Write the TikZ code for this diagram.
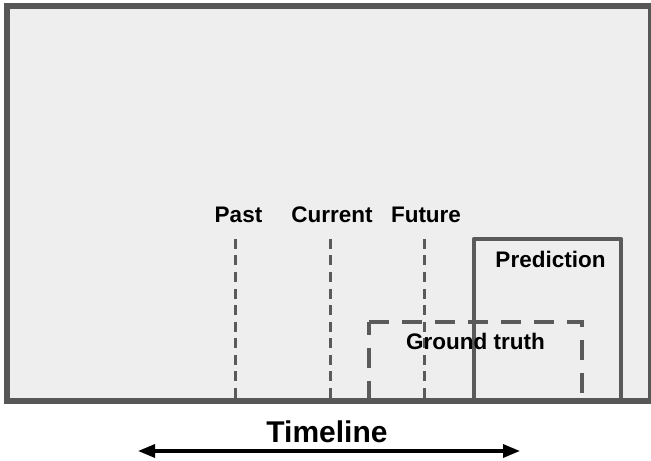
\documentclass[tikz,border=0pt]{standalone}
\usepackage{fontspec}
\setmainfont{Liberation Sans}
\usetikzlibrary{arrows.meta}
\definecolor{framegray}{HTML}{575757}
\definecolor{bggray}{HTML}{EEEEEE}
\definecolor{dashgray}{HTML}{5A5A5A}
\tikzset{
  label22/.style={font=\fontsize{22.5bp}{26bp}\selectfont\bfseries, inner sep=0pt, anchor=base, text=black},
  timelbl/.style={font=\fontsize{30bp}{34bp}\selectfont\bfseries, inner sep=0pt, anchor=base, text=black},
  marker/.style={draw=dashgray, line width=3bp, dash pattern=on 10bp off 6.5bp},
  gtbox/.style={draw=dashgray, line width=4.5bp, dash pattern=on 20bp off 13bp},
  predbox/.style={draw=dashgray, line width=4.5bp, line join=round},
  framebox/.style={draw=framegray, line width=6bp},
}
\begin{document}
\begin{tikzpicture}[x=1bp,y=-1bp]
\useasboundingbox (0,0) rectangle (651,461);
% background
\fill[bggray] (6.5,6.5) rectangle (650.5,401);
% coordinates
\coordinate (pastT) at (235,239);
\coordinate (pastB) at (235,401);
\coordinate (curT) at (330,239);
\coordinate (curB) at (330,401);
\coordinate (futT) at (424,239);
\coordinate (futB) at (424,401);
\coordinate (gtTL) at (369,322);
\coordinate (gtBL) at (369,400);
\coordinate (gtTR) at (582,322);
\coordinate (gtBR) at (582,393);
\coordinate (prBL) at (474,401);
\coordinate (prTR) at (621,239);
\coordinate (tlL) at (138,451);
\coordinate (tlR) at (520,451);
% time markers
\draw[marker] (pastT) -- (pastB);
\draw[marker] (curT) -- (curB);
\draw[marker] (futT) -- (futB);
% ground truth box
\draw[gtbox, dash phase=7bp] (gtTL) -- (gtBL);
\draw[gtbox] (gtTL) -- (gtTR) -- (gtBR);
% prediction box
\draw[predbox] (prBL) rectangle (prTR);
% frame
\draw[framebox] (6.5,6.5) rectangle (650.5,401);
% labels
\node[label22] (past) at (238.5,222.3) {Past};
\node[label22] (cur) at (332,222.3) {Current};
\node[label22] (fut) at (426,222.3) {Future};
\node[label22] (pred) at (550.5,267.3) {Prediction};
\node[label22] (gt) at (475.5,349) {Ground truth};
\node[timelbl] (tl) at (327,442) {Timeline};
% timeline arrow
\draw[line width=3.2bp, {Triangle[length=17bp,width=13bp]}-{Triangle[length=17bp,width=13bp]}] (tlL) -- (tlR);
\end{tikzpicture}
\end{document}
